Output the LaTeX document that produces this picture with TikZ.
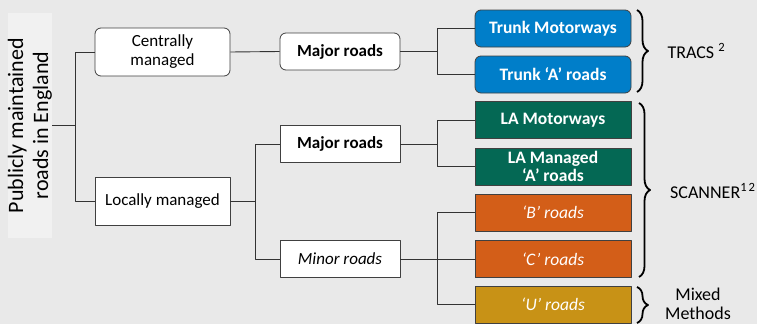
\documentclass[tikz,border=0pt]{standalone}
\usepackage{fontspec}
\setmainfont{Carlito}
\usetikzlibrary{decorations.pathreplacing}

\definecolor{bgcol}{RGB}{233,233,233}
\definecolor{titlecol}{RGB}{241,241,241}
\definecolor{trunkblue}{RGB}{0,126,201}
\definecolor{lagreen}{RGB}{4,104,84}
\definecolor{minororange}{RGB}{211,94,24}
\definecolor{ugold}{RGB}{200,146,22}

\begin{document}
\begin{tikzpicture}[x=1pt, y=-1pt, line join=round,
	conn/.style={draw=black!80, line width=0.9pt},
	midbox/.style={draw=black!75, fill=white, line width=0.8pt, align=center,
		minimum width=135pt, minimum height=48pt, inner sep=2pt,
		font=\fontsize{17}{19}\selectfont},
	roadbox/.style={draw=black!75, fill=white, line width=0.8pt, align=center,
		minimum width=120pt, minimum height=37pt, inner sep=2pt},
	leafbox/.style={draw=black!75, fill=#1, line width=0.8pt, align=center, text=white,
		minimum width=156pt, minimum height=37pt, inner sep=1pt,
		font=\fontsize{17.5}{18}\selectfont\bfseries},
	leafital/.style={leafbox=#1, font=\fontsize{17.5}{18}\selectfont\itshape},
	grp/.style={decorate, decoration={brace, amplitude=11pt}, draw=black, line width=1.8pt},
	grplabel/.style={font=\fontsize{18}{19}\selectfont, align=center}
	]
	
	% ----------------------------
	% 0) Canvas
	% ----------------------------
	\fill[bgcol] (0,0) rectangle (757,324);
	\useasboundingbox (0,0) rectangle (757,324);
	
	% ----------------------------
	% 1) Title (vertical)
	% ----------------------------
	\node[fill=titlecol, rotate=90, minimum width=225pt, minimum height=38pt, inner sep=0pt,
		align=center, font=\fontsize{22}{25}\selectfont] (title) at (30,125.5)
		{Publicly maintained\\roads in England};
	
	% ----------------------------
	% 2) Management level
	% ----------------------------
	\node[midbox, rounded corners=6pt] (central) at (162.5,52) {Centrally\\managed};
	\node[midbox] (local) at (162.5,201.5) {Locally managed};
	
	% ----------------------------
	% 3) Road class
	% ----------------------------
	\node[roadbox, rounded corners=6pt, font=\fontsize{17}{19}\selectfont\bfseries] (majorC) at (340,51.5) {Major roads};
	\node[roadbox, font=\fontsize{17}{19}\selectfont\bfseries] (majorL) at (340,144) {Major roads};
	\node[roadbox, font=\fontsize{17}{19}\selectfont\itshape] (minor) at (340,259) {Minor roads};
	
	% ----------------------------
	% 4) Road types
	% ----------------------------
	\node[leafbox=trunkblue, rounded corners=6pt] (trunkM) at (553,28.5) {Trunk Motorways};
	\node[leafbox=trunkblue, rounded corners=6pt] (trunkA) at (553,74.5) {Trunk `A' roads};
	\node[leafbox=lagreen] (laM) at (553,120) {LA Motorways};
	\node[leafbox=lagreen] (laA) at (553,166.5) {LA Managed\\`A' roads};
	\node[leafital=minororange] (roadB) at (553,212.5) {`B' roads};
	\node[leafital=minororange] (roadC) at (553,259) {`C' roads};
	\node[leafital=ugold] (roadU) at (553,304.5) {`U' roads};
	
	% ----------------------------
	% 5) Tree connectors
	% ----------------------------
	\draw[conn] (title.south) -- ++(23,0) coordinate (j0);
	\draw[conn] (j0) |- (central.west);
	\draw[conn] (j0) |- (local.west);
	
	\draw[conn] (central.east) -- (majorC.west);
	\draw[conn] (local.east) -- ++(25,0) coordinate (j1);
	\draw[conn] (j1) |- (majorL.west);
	\draw[conn] (j1) |- (minor.west);
	
	\draw[conn] (majorC.east) -- ++(37,0) coordinate (j2);
	\draw[conn] (j2) |- (trunkM.west);
	\draw[conn] (j2) |- (trunkA.west);
	
	\draw[conn] (majorL.east) -- ++(37,0) coordinate (j3);
	\draw[conn] (j3) |- (laM.west);
	\draw[conn] (j3) |- (laA.west);
	
	\draw[conn] (minor.east) -- ++(37,0) coordinate (j4);
	\draw[conn] (j4) |- (roadB.west);
	\draw[conn] (j4) |- (roadC.west);
	\draw[conn] (j4) |- (roadU.west);
	
	% ----------------------------
	% 6) Survey method braces
	% ----------------------------
	\coordinate (tracsTop) at (637,10);
	\coordinate (tracsBot) at (637,92);
	\draw[grp] (tracsTop) -- (tracsBot);
	\node[grplabel, anchor=west] (tracs) at (664,51) {TRACS \textsuperscript{2}};
	
	\coordinate (scanTop) at (639,103);
	\coordinate (scanBot) at (639,277);
	\draw[grp] (scanTop) -- (scanBot);
	\node[grplabel, anchor=west, inner sep=0pt] (scanner) at (670,191) {SCANNER\textsuperscript{1\hspace{2pt}2}};
	
	\coordinate (mixTop) at (637,287);
	\coordinate (mixBot) at (637,323);
	\draw[grp] (mixTop) -- (mixBot);
	\node[grplabel] (mixed) at (698,303.5) {Mixed\\Methods};
	
\end{tikzpicture}
\end{document}
